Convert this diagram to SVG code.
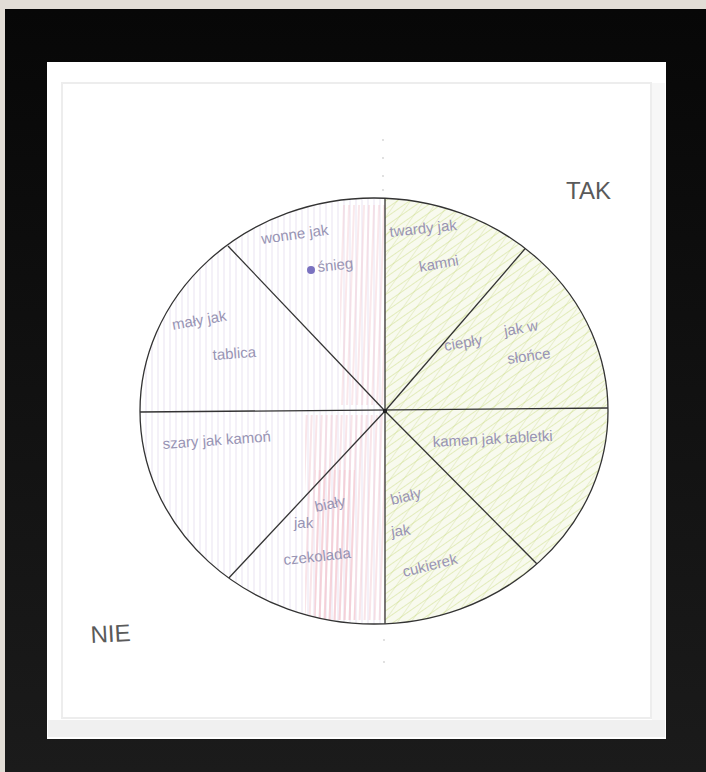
<svg xmlns="http://www.w3.org/2000/svg" width="706" height="772" viewBox="0 0 706 772">
<defs>
<style>
.lbl{font-family:"Liberation Sans","DejaVu Sans",sans-serif;font-size:15px;fill:#9894b4;}
.big{font-family:"Liberation Sans","DejaVu Sans",sans-serif;font-size:24px;fill:#5a5a5a;font-weight:normal;}
.div{stroke:#333;stroke-width:1.3;fill:none;}
</style>
<clipPath id="ell"><ellipse cx="374" cy="411" rx="234" ry="213"/></clipPath>
<pattern id="green" width="7" height="7" patternUnits="userSpaceOnUse" patternTransform="rotate(55)">
<line x1="0" y1="0" x2="0" y2="7" stroke="#dde8ae" stroke-width="2"/>
</pattern>
<pattern id="green2" width="11" height="11" patternUnits="userSpaceOnUse" patternTransform="rotate(35)">
<line x1="0" y1="0" x2="0" y2="11" stroke="#c3d67c" stroke-width="1"/>
</pattern>
<pattern id="pink" width="5" height="10" patternUnits="userSpaceOnUse" patternTransform="rotate(2)">
<line x1="1" y1="0" x2="1" y2="10" stroke="#f2c2cb" stroke-width="1.1"/>
</pattern>
<pattern id="lav" width="6" height="10" patternUnits="userSpaceOnUse">
<line x1="2" y1="0" x2="2" y2="10" stroke="#f0ecf6" stroke-width="1.5"/>
</pattern>
<linearGradient id="frameg" x1="0" y1="0" x2="0" y2="1">
<stop offset="0" stop-color="#070707"/><stop offset="1" stop-color="#1b1b1b"/>
</linearGradient>
</defs>
<rect x="0" y="0" width="706" height="772" fill="#e2ddd6"/>
<rect x="5" y="9" width="701" height="763" fill="url(#frameg)"/>
<rect x="47" y="62" width="619" height="677" fill="#ffffff"/>
<rect x="62" y="83" width="589" height="635" fill="none" stroke="#ededed" stroke-width="2"/>
<rect x="48" y="720" width="617" height="17" fill="#f0f0f0"/>
<rect x="652" y="83" width="13" height="637" fill="#f7f7f7"/>

<g id="fills" clip-path="url(#ell)">
<rect x="140" y="198" width="245" height="426" fill="url(#lav)"/>
<rect x="385" y="198" width="225" height="426" fill="#f8faee"/>
<rect x="385" y="198" width="225" height="426" fill="url(#green)" opacity="0.8"/>
<rect x="385" y="198" width="225" height="426" fill="url(#green2)" opacity="0.6"/>
<rect x="340" y="205" width="45" height="200" fill="url(#pink)" opacity="0.7"/>
<rect x="305" y="415" width="80" height="205" fill="url(#pink)" opacity="0.8"/>
<rect x="315" y="470" width="40" height="150" fill="url(#pink)" opacity="0.9"/>
</g>

<g id="connectors">
<ellipse cx="374" cy="411" rx="234" ry="213" class="div" stroke-width="1.8"/>
<g clip-path="url(#ell)">
<line x1="385" y1="198" x2="385" y2="624" class="div"/>
<line x1="140" y1="412" x2="608" y2="408" class="div"/>
<line x1="385" y1="411" x2="228" y2="246" class="div"/>
<line x1="385" y1="411" x2="536" y2="236" class="div"/>
<line x1="385" y1="411" x2="226" y2="581" class="div"/>
<line x1="385" y1="411" x2="540" y2="567" class="div"/>
</g>
<circle cx="385" cy="411" r="2.2" fill="#222"/>
<g fill="#d2d2d2">
<circle cx="383" cy="140" r="0.9"/><circle cx="383" cy="158" r="0.9"/><circle cx="383" cy="176" r="0.9"/><circle cx="383" cy="190" r="0.9"/>
<circle cx="384" cy="640" r="0.9"/><circle cx="384" cy="662" r="0.9"/>
</g>
</g>

<g id="n1"><text class="lbl" x="262" y="244" transform="rotate(-8 262 244)">wonne jak</text>
<circle cx="311" cy="270" r="4" fill="#7a72c0"/><text class="lbl" x="318" y="272" transform="rotate(-6 318 272)">śnieg</text></g>
<g id="n2"><text class="lbl" x="390" y="237" transform="rotate(-6 390 237)">twardy jak</text>
<text class="lbl" x="420" y="272" transform="rotate(-10 420 272)">kamni</text></g>
<g id="n3"><text class="lbl" x="173" y="330" transform="rotate(-10 173 330)">mały jak</text>
<text class="lbl" x="213" y="360" transform="rotate(-4 213 360)">tablica</text></g>
<g id="n4"><text class="lbl" x="445" y="351" transform="rotate(-10 445 351)">ciepły</text>
<text class="lbl" x="505" y="336" transform="rotate(-10 505 336)">jak w</text>
<text class="lbl" x="508" y="364" transform="rotate(-8 508 364)">słońce</text></g>
<g id="n5"><text class="lbl" x="163" y="449" transform="rotate(-4 163 449)">szary jak kamoń</text></g>
<g id="n6"><text class="lbl" x="433" y="447" transform="rotate(-3 433 447)">kamen jak tabletki</text></g>
<g id="n7"><text class="lbl" x="316" y="512" transform="rotate(-12 316 512)">biały</text>
<text class="lbl" x="294" y="528">jak</text>
<text class="lbl" x="284" y="565" transform="rotate(-6 284 565)">czekolada</text></g>
<g id="n8"><text class="lbl" x="392" y="505" transform="rotate(-14 392 505)">biały</text>
<text class="lbl" x="392" y="537" transform="rotate(-8 392 537)">jak</text>
<text class="lbl" x="404" y="577" transform="rotate(-14 404 577)">cukierek</text></g>
<g id="tak"><text class="big" x="566" y="199">TAK</text></g>
<g id="nie"><text class="big" x="91" y="643" transform="rotate(-3 91 643)">NIE</text></g>
</svg>
